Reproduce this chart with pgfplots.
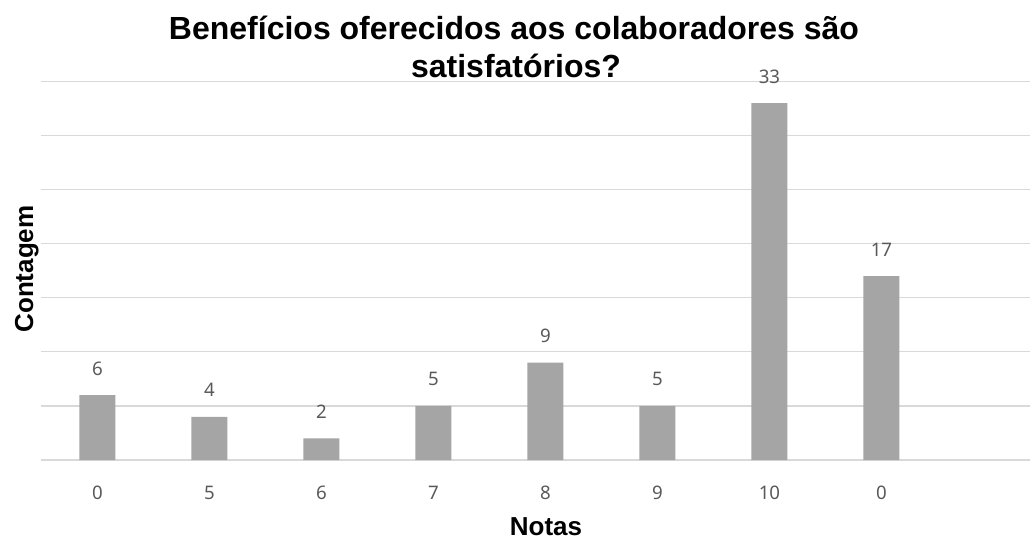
\documentclass[border=0pt]{standalone}
\usepackage{pgfplots}
\pgfplotsset{compat=1.18}
\usepackage{fontspec}
\setmainfont{Liberation Sans}
\newfontfamily\numfont{Noto Sans}
\definecolor{bargray}{HTML}{A5A5A5}
\definecolor{gridgray}{HTML}{D9D9D9}
\definecolor{labgray}{HTML}{595959}
\begin{document}
\begin{tikzpicture}[x=0.75pt,y=0.75pt]
  % 1 unit = 1 px of the reference (1030 x 539)
  \path[use as bounding box] (0,0) rectangle (1030,539);
  \begin{axis}[
      at={(37,73)}, anchor=south west,
      scale only axis,
      width=742.5pt, height=283.9pt,
      xmin=-0.5, xmax=8.339,
      ymin=0, ymax=35,
      axis line style={draw=none},
      major tick length=0pt,
      ytick={0,5,...,35},
      yticklabels={},
      ymajorgrids,
      major grid style={color=gridgray, line width=0.9pt},
      xtick={0,...,7},
      xticklabels={0,5,6,7,8,9,10,0},
      xticklabel style={font=\numfont\fontsize{14pt}{16pt}\selectfont,
        text=labgray, anchor=base, inner sep=0pt, yshift=-29.25pt},
      /pgf/number format/assume math mode=true,
      ybar, bar width=27pt,
      nodes near coords,
      every node near coord/.append style={font=\numfont\fontsize{14pt}{16pt}\selectfont,
        text=labgray, anchor=base, inner sep=0pt, yshift=15pt},
      clip=false,
    ]
    \addplot[fill=bargray, draw=none] coordinates {
      (0,6) (1,4) (2,2) (3,5) (4,9) (5,5) (6,33) (7,17)
    };
  \end{axis}
  \node[anchor=base, font=\bfseries\fontsize{24pt}{28pt}\selectfont]
    at (514,499) {Benefícios oferecidos aos colaboradores são};
  \node[anchor=base, font=\bfseries\fontsize{24pt}{28pt}\selectfont]
    at (516,461) {satisfatórios?};
  \node[anchor=base, rotate=90, font=\bfseries\fontsize{19.5pt}{22pt}\selectfont]
    at (33,270) {Contagem};
  \node[anchor=base, font=\bfseries\fontsize{19.5pt}{22pt}\selectfont]
    at (546,4) {Notas};
\end{tikzpicture}
\end{document}
